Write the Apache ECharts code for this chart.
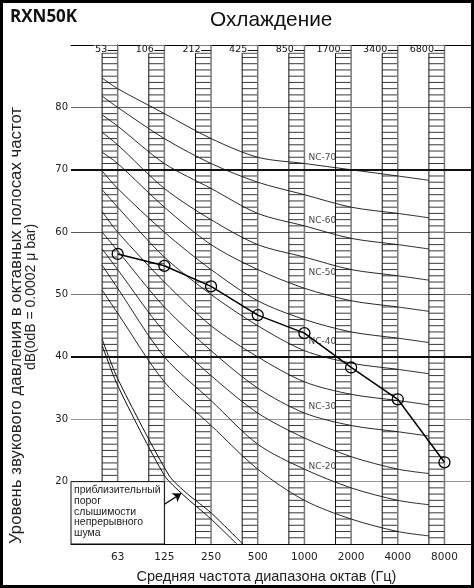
<!DOCTYPE html>
<html><head><meta charset="utf-8">
<script src="https://cdn.jsdelivr.net/npm/echarts@6/dist/echarts.min.js"></script>
<style>html,body{margin:0;padding:0;background:#fff}#c{width:474px;height:588px}</style>
</head><body><div id="c"></div>
<script>
// ---------- data ----------
const bandLabels = ['63', '125', '250', '500', '1000', '2000', '4000', '8000'];
const bandLimitLabels = ['53', '106', '212', '425', '850', '1700', '3400', '6800'];
const yTickValues = [20, 30, 40, 50, 60, 70, 80];
const measuredDb = [56.5, 54.6, 51.3, 46.7, 43.8, 38.3, 33.2, 23.1];

const ncNames = ['NC-15', 'NC-20', 'NC-25', 'NC-30', 'NC-35', 'NC-40', 'NC-45', 'NC-50', 'NC-55', 'NC-60', 'NC-65', 'NC-70'];
// value read at the left edge of the first band column
const ncStartDb = [50.7, 54.7, 57.3, 60.0, 63.3, 66.8, 69.8, 72.8, 76.0, 78.8, 81.8, 84.7];
// values at 63, 125, 250, 500, 1000, 2000, 4000 Hz
const ncBandDb = [
  [47, 36, 29, 22, 17, 14, 12],
  [51, 40, 33, 26, 22, 19, 17],
  [54, 44, 37, 31, 27, 24, 22],
  [57, 48, 41, 35, 31, 29, 28],
  [60, 52, 45, 40, 36, 34, 33],
  [64, 56, 50, 45, 41, 39, 38],
  [67, 60, 54, 49, 46, 44, 43],
  [71, 64, 58, 54, 51, 49, 48],
  [74, 67, 62, 58, 56, 54, 53],
  [77, 71, 67, 63, 61, 59, 58],
  [80, 75, 71, 68, 66, 64, 63],
  [83, 79, 75, 72, 71, 70, 69]
];
// value read where each curve ends (left edge of the last column)
const ncEndDb = [11.3, 16.3, 21.3, 27.3, 32.3, 37.3, 42.3, 47.3, 52.3, 57.3, 62.3, 68.3];
const ncLabeled = ['NC-20', 'NC-30', 'NC-40', 'NC-50', 'NC-60', 'NC-70'];

// approximate threshold of hearing: two parallel lines, [band position, dB]
const thresholdLower = [[-0.33, 41.8], [0, 35.4], [1, 21.0], [1.4, 17.9], [2, 14.0], [2.55, 10]];
const thresholdUpper = [[-0.33, 42.8], [0, 36.5], [1.1, 21.0], [1.5, 18.0], [2, 15.0], [2.68, 10]];
const thresholdArrow = [[0.86, 15.7], [1.36, 18.1]];
const thresholdText = ['приблизительный', 'порог', 'слышимости', 'непрерывного', 'шума'];

const yNameLine1 = 'Уровень звукового давления в октавных полосах частот';
const yNameLine2 = 'dB(0dB = 0.0002 μ bar)';

// ---------- chart ----------
const chart = echarts.init(document.getElementById('c'), null, {renderer: 'canvas'});
const BAND_W = 1 / 3;
const NC_LABEL_OFFSET = {'NC-20': -2, 'NC-30': -6, 'NC-40': -9, 'NC-50': -16, 'NC-60': -5, 'NC-70': -6};

function renderColumn(params, api) {
  const u = api.value(0);
  const idx = params.dataIndex;
  const xl = api.coord([u - BAND_W, 50])[0];
  const xr = api.coord([u, 50])[0];
  const yBot = api.coord([u, 10])[1];
  const yColTop = api.coord([u, 88.7])[1];
  const yTop = api.coord([u, 90])[1];
  const yLab = api.coord([u, 89.2])[1];
  const st = {stroke: '#222', lineWidth: 0.9};
  const ch = [];
  ch.push({type: 'rect', shape: {x: xl, y: yColTop, width: xr - xl, height: yBot - yColTop}, style: {fill: '#fff'}});
  for (let d = 11; d <= 88; d++) {
    const y = api.coord([u, d])[1];
    ch.push({type: 'line', shape: {x1: xl, y1: y, x2: xr, y2: y}, style: st});
  }
  ch.push({type: 'line', shape: {x1: xl, y1: yColTop, x2: xr, y2: yColTop}, style: {stroke: '#111', lineWidth: 1}});
  ch.push({type: 'line', shape: {x1: xl, y1: yColTop, x2: xl, y2: yBot}, style: {stroke: '#111', lineWidth: 1}});
  ch.push({type: 'line', shape: {x1: xr, y1: yTop, x2: xr, y2: yBot}, style: {stroke: '#777', lineWidth: 1.5}});
  ch.push({type: 'rect', shape: {x: xr - 24, y: yTop + 0.5, width: 23, height: yColTop - yTop - 1}, style: {fill: '#fff'}});
  ch.push({type: 'line', shape: {x1: xr - 10, y1: yLab + 0.5, x2: xr, y2: yLab + 0.5}, style: {stroke: '#111', lineWidth: 1}});
  ch.push({type: 'text', style: {text: bandLimitLabels[idx], x: xr - 10.5, y: yLab, align: 'right', verticalAlign: 'middle',
    fontFamily: 'DejaVu Sans', fontSize: 9.5, fill: '#111'}});
  return {type: 'group', children: ch};
}

function renderLegendBox(params, api) {
  const p0 = api.coord([api.value(0), api.value(1)]);
  const p1 = api.coord([api.value(2), api.value(3)]);
  return {type: 'group', children: [
    {type: 'rect', shape: {x: p0[0], y: p0[1], width: p1[0] - p0[0], height: p1[1] - p0[1]},
      style: {fill: '#fff', stroke: '#111', lineWidth: 1}},
    {type: 'text', style: {text: thresholdText.join('\n'), x: p0[0] + 3, y: p0[1] + 3,
      fontFamily: 'Liberation Sans', fontSize: 10.5, lineHeight: 10.8, fill: '#222', align: 'left', verticalAlign: 'top'}}
  ]};
}

const ncSeries = ncNames.map((name, i) => ({
  type: 'line', name: name, z: 3, silent: true, symbol: 'none', smooth: 0.3,
  lineStyle: {color: '#111', width: 0.9},
  data: [[-BAND_W, ncStartDb[i]]].concat(ncBandDb[i].map((v, k) => [k, v])).concat([[7 - BAND_W, ncEndDb[i]]])
}));

const ncLabelData = ncLabeled.map(n => {
  const i = ncNames.indexOf(n);
  return {name: n, value: [4, ncBandDb[i][4]], label: {offset: [0, NC_LABEL_OFFSET[n]]}};
});

const option = {
  animation: false,
  backgroundColor: '#fff',
  title: [
    {text: 'RXN50K', left: 5, top: 4, textStyle: {fontFamily: 'Open Sans', fontWeight: 'bold', fontSize: 17, color: '#111'}},
    {text: 'Охлаждение', left: 205, top: 5, textStyle: {fontFamily: 'Liberation Sans', fontWeight: 'normal', fontSize: 20.8, color: '#111'}}
  ],
  grid: {left: 71, right: 2, top: 45, bottom: 44, containLabel: false, outerBoundsMode: 'none'},
  xAxis: [
    {type: 'value', min: -1, max: 7.59, interval: 1, position: 'bottom',
      axisLine: {show: true, lineStyle: {color: '#000', width: 1}},
      axisTick: {show: false}, splitLine: {show: false},
      axisLabel: {margin: 8, fontFamily: 'DejaVu Sans', fontSize: 10.5, color: '#222',
        formatter: v => (Number.isInteger(v) && v >= 0 && v < bandLabels.length) ? bandLabels[v] : ''},
      name: 'Средняя частота диапазона октав (Гц)', nameLocation: 'middle', nameGap: 25,
      nameTextStyle: {fontFamily: 'Liberation Sans', fontSize: 14.5, color: '#222', padding: [0, 10, 0, 0]}},
    {type: 'value', min: -1, max: 7.59, interval: 1, position: 'top',
      axisLine: {show: true, lineStyle: {color: '#000', width: 1}},
      axisTick: {show: false}, splitLine: {show: false}, axisLabel: {show: false}}
  ],
  yAxis: {type: 'value', min: 10, max: 90, interval: 10,
    axisLine: {show: true, lineStyle: {color: '#000', width: 1}},
    axisTick: {show: false},
    axisLabel: {margin: 3, fontFamily: 'DejaVu Sans', fontSize: 10, color: '#222',
      formatter: v => yTickValues.includes(v) ? String(v) : ''},
    splitLine: {show: true, lineStyle: {width: 1, color: ['#000', '#999', '#999', '#000', '#777', '#555', '#000', '#666', '#000']}},
    name: yNameLine1,
    nameLocation: 'middle', nameRotate: 90, nameGap: 46,
    nameTextStyle: {fontFamily: 'Liberation Sans', fontSize: 16.8, color: '#222', align: 'center', padding: [0, 62, 0, 0]}
  },
  graphic: [
    {type: 'text', x: 31, y: 297, rotation: Math.PI / 2, z: 10,
      style: {text: yNameLine2, align: 'center', verticalAlign: 'middle', fontFamily: 'Liberation Sans', fontSize: 14, fill: '#222'}},
    {type: 'rect', z: 100, shape: {x: 1.5, y: 1.5, width: 471, height: 585}, style: {fill: 'none', stroke: '#000', lineWidth: 3}}
  ],
  series: [
    {type: 'custom', name: 'bands', z: 1, silent: true, renderItem: renderColumn,
      data: bandLimitLabels.map((l, i) => [i])},
    {type: 'line', name: 'grid-bold', z: 2, silent: true, data: [],
      markLine: {silent: true, symbol: 'none', label: {show: false},
        lineStyle: {color: '#111', width: 2, type: 'solid'},
        data: [{yAxis: 40}, {yAxis: 70}]}},
    ...ncSeries,
    {type: 'scatter', name: 'nc-labels', z: 4, silent: true, symbolSize: 0, data: ncLabelData,
      label: {show: true, formatter: '{b}', position: 'right', distance: 4,
        fontFamily: 'DejaVu Sans', fontSize: 9, color: '#111'}},
    {type: 'custom', name: 'threshold-box', z: 5, silent: true, renderItem: renderLegendBox,
      data: [[-1, 20, 1, 10]]},
    {type: 'line', name: 'threshold-lower', z: 6, silent: true, symbol: 'none', smooth: 0.25,
      lineStyle: {color: '#111', width: 1}, data: thresholdLower,
      markLine: {silent: true, symbol: ['none', 'arrow'], symbolSize: 8, label: {show: false},
        lineStyle: {color: '#000', width: 1.3, type: 'solid'},
        data: [[{coord: thresholdArrow[0]}, {coord: thresholdArrow[1]}]]}},
    {type: 'line', name: 'threshold-upper', z: 6, silent: true, symbol: 'none', smooth: 0.25,
      lineStyle: {color: '#111', width: 1}, data: thresholdUpper},
    {type: 'line', name: 'measured', z: 8, silent: true, symbol: 'circle', symbolSize: 11,
      lineStyle: {color: '#000', width: 1.5},
      itemStyle: {color: 'rgba(0,0,0,0)', borderColor: '#000', borderWidth: 1.3},
      data: measuredDb.map((v, k) => [k, v])}
  ]
};
chart.setOption(option);
</script>
</body></html>
